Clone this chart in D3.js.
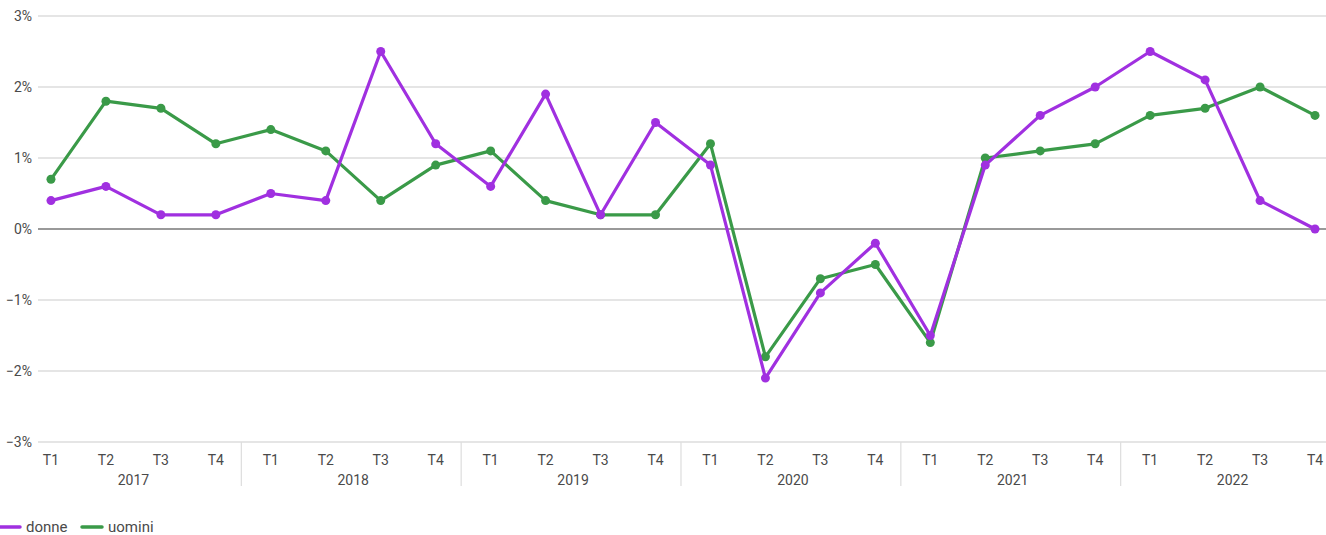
<!DOCTYPE html>
<html>
<head>
<meta charset="utf-8">
<script src="https://cdn.jsdelivr.net/npm/d3@7.9.0/dist/d3.min.js"></script>
<style>
  body { margin: 0; background: #fff; }
  svg { font-family: Roboto, sans-serif; }
</style>
</head>
<body>
<svg id="chart" width="1326" height="535"></svg>
<script>
const years = ['2017', '2018', '2019', '2020', '2021', '2022'];
const quarters = ['T1', 'T2', 'T3', 'T4'];
const donne = [0.4, 0.6, 0.2, 0.2, 0.5, 0.4, 2.5, 1.2, 0.6, 1.9, 0.2, 1.5,
  0.9, -2.1, -0.9, -0.2, -1.5, 0.9, 1.6, 2.0, 2.5, 2.1, 0.4, 0.0];
const uomini = [0.7, 1.8, 1.7, 1.2, 1.4, 1.1, 0.4, 0.9, 1.1, 0.4, 0.2, 0.2,
  1.2, -1.8, -0.7, -0.5, -1.6, 1.0, 1.1, 1.2, 1.6, 1.7, 2.0, 1.6];
const yTicks = [-3, -2, -1, 0, 1, 2, 3];

const svg = d3.select('#chart');

let keys = [];
years.forEach((y) => quarters.forEach((q) => keys.push(y + q)));

let x = d3.scaleBand().domain(keys).range([23.5, 1342.5]);
let y = d3.scaleLinear().domain([-3, 3]).range([442, 16]);
const cx = (i) => x(keys[i]) + x.bandwidth() / 2;
const textColor = '#4a4a4a';

// grid
svg.append('g')
  .selectAll('line')
  .data(yTicks)
  .join('line')
  .attr('x1', 38).attr('x2', 1326)
  .attr('y1', (d) => y(d)).attr('y2', (d) => y(d))
  .attr('stroke', (d) => d === 0 ? '#777' : '#ddd')
  .attr('stroke-width', (d) => d === 0 ? 1.6 : 1.4);

svg.append('g')
  .selectAll('text')
  .data(yTicks)
  .join('text')
  .attr('x', 32).attr('y', (d) => y(d) + 5)
  .attr('text-anchor', 'end')
  .attr('font-size', 14)
  .attr('fill', textColor)
  .text((d) => (d < 0 ? '\u2212' + Math.abs(d) : d) + '%');

// x axis: quarters
svg.append('g')
  .selectAll('text')
  .data(keys)
  .join('text')
  .attr('x', (d) => x(d) + x.bandwidth() / 2)
  .attr('y', 465)
  .attr('text-anchor', 'middle')
  .attr('font-size', 14)
  .attr('fill', textColor)
  .text((d) => d.slice(4));

// x axis: years
svg.append('g')
  .selectAll('text')
  .data(years)
  .join('text')
  .attr('x', (d) => (x(d + 'T1') + x(d + 'T4') + x.bandwidth()) / 2)
  .attr('y', 485)
  .attr('text-anchor', 'middle')
  .attr('font-size', 14)
  .attr('fill', textColor)
  .text((d) => d);

svg.append('g')
  .selectAll('line')
  .data(years.slice(1))
  .join('line')
  .attr('x1', (d) => x(d + 'T1') - 2).attr('x2', (d) => x(d + 'T1') - 2)
  .attr('y1', 442).attr('y2', 486)
  .attr('stroke', '#ddd')
  .attr('stroke-width', 1.2);

// series
const series = [
  { name: 'uomini', values: uomini, color: '#3a9a48' },
  { name: 'donne', values: donne, color: '#a030e0' },
];

let line = d3.line().x((d, i) => cx(i)).y((d) => y(d));

series.forEach((s) => {
  let g = svg.append('g');
  g.append('path')
    .attr('d', line(s.values))
    .attr('fill', 'none')
    .attr('stroke', s.color)
    .attr('stroke-width', 3.2)
    .attr('stroke-linejoin', 'round');
  g.selectAll('circle')
    .data(s.values)
    .join('circle')
    .attr('cx', (d, i) => cx(i))
    .attr('cy', (d) => y(d))
    .attr('r', 4.5)
    .attr('fill', s.color);
});

// legend
const legend = [
  { name: 'donne', color: '#a030e0', x: 0 },
  { name: 'uomini', color: '#3a9a48', x: 82 },
];
let lg = svg.append('g').selectAll('g').data(legend).join('g');
lg.append('line')
  .attr('x1', (d) => d.x).attr('x2', (d) => d.x + 20)
  .attr('y1', 527).attr('y2', 527)
  .attr('stroke', (d) => d.color)
  .attr('stroke-width', 3.5)
  .attr('stroke-linecap', 'round');
lg.append('text')
  .attr('x', (d) => d.x + 26).attr('y', 532)
  .attr('font-size', 15)
  .attr('fill', textColor)
  .text((d) => d.name);
</script>
</body>
</html>
